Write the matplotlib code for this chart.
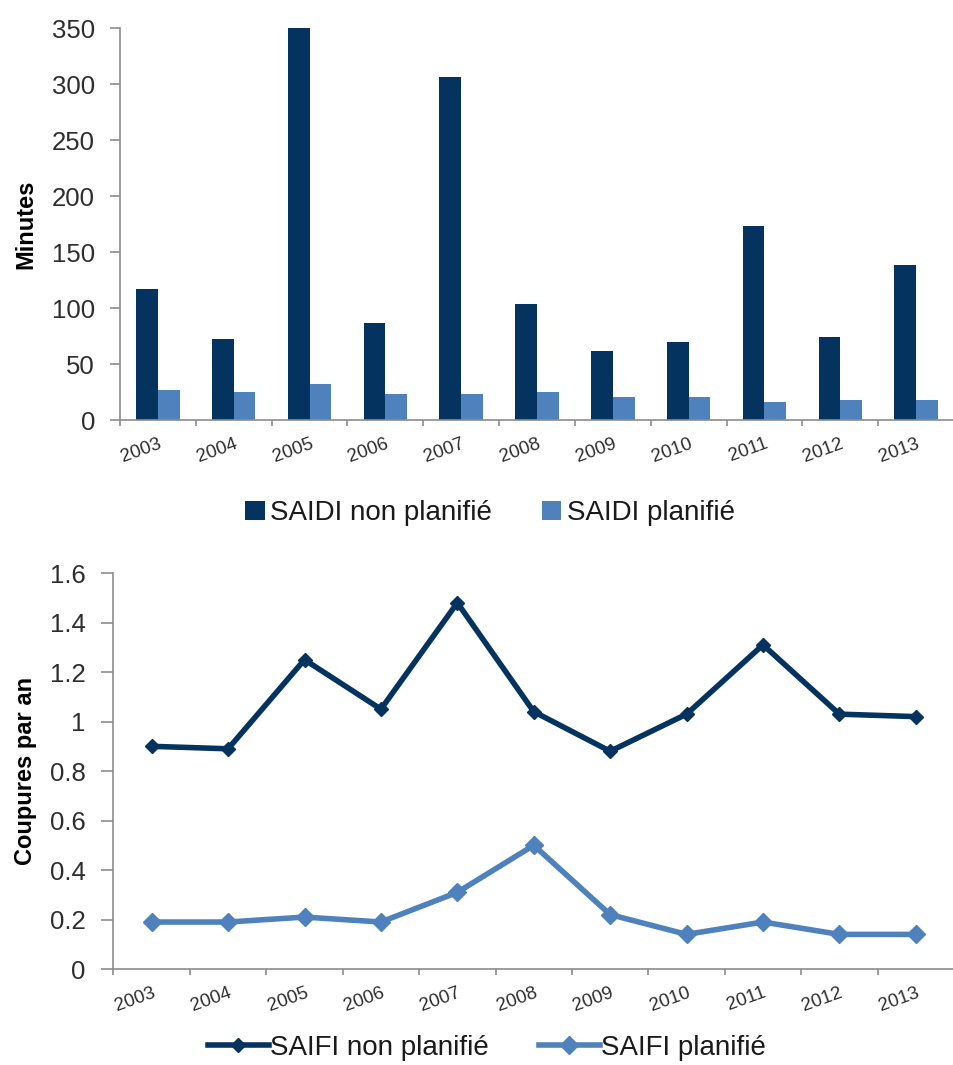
import numpy as np
import matplotlib
matplotlib.use('Agg')
import matplotlib.pyplot as plt
from matplotlib.ticker import FuncFormatter

plt.rcParams['font.family'] = ['Liberation Sans', 'DejaVu Sans']

# ── données ──────────────────────────────────────────
years = ['2003', '2004', '2005', '2006', '2007', '2008', '2009', '2010', '2011', '2012', '2013']
saidi_non_planifie = [117, 72, 350, 87, 306, 104, 62, 70, 173, 74, 138]
saidi_planifie = [27, 25, 32, 23, 23, 25, 21, 21, 16, 18, 18]
saifi_non_planifie = [0.90, 0.89, 1.25, 1.05, 1.48, 1.04, 0.88, 1.03, 1.31, 1.03, 1.02]
saifi_planifie = [0.19, 0.19, 0.21, 0.19, 0.31, 0.50, 0.22, 0.14, 0.19, 0.14, 0.14]

dark = '#04335f'
light = '#4f81bd'
axis_col = '#8c8c8c'
text_col = '#2e2e2e'

fig = plt.figure(figsize=(9.54, 10.65), dpi=100)
x = np.arange(len(years))


def style_axis(ax, xmax):
    for s in ['top', 'right']:
        ax.spines[s].set_visible(False)
    for s in ['left', 'bottom']:
        ax.spines[s].set_color(axis_col)
        ax.spines[s].set_linewidth(1.2)
    ax.set_xlim(-0.5, xmax)
    ax.set_xticks(x)
    ax.set_xticklabels(years, rotation=20, ha='right', rotation_mode='anchor',
                       fontsize=13.5, color=text_col)
    ax.set_xticks(np.arange(-0.5, len(years)), minor=True)
    ax.tick_params(axis='x', which='major', length=0, pad=11)
    ax.tick_params(axis='x', which='minor', length=4, width=1.2, color=axis_col)
    ax.tick_params(axis='y', length=7, width=1.2, color=axis_col,
                   labelsize=18.5, labelcolor=text_col, pad=11)


# ── 1. SAIDI ──────────────────────────────────────────
ax1 = fig.add_axes([120 / 954, 0.6056, (954 - 120) / 954, 0.3681])
w = 0.286
ax1.bar(x - w / 2, saidi_non_planifie, width=w, color=dark, label='SAIDI non planifié')
ax1.bar(x + w / 2, saidi_planifie, width=w, color=light, label='SAIDI planifié')
ax1.set_ylim(0, 350)
ax1.set_yticks(np.arange(0, 351, 50))
style_axis(ax1, 10.344)
ax1.set_ylabel('Minutes', fontsize=17, fontweight='bold', color='black')
ax1.yaxis.set_label_coords(-83 / 834, 0.5)
ax1.legend(loc='center', bbox_to_anchor=(490 / 954, 0.518), bbox_transform=fig.transFigure,
           ncol=2, frameon=False, fontsize=20, handlelength=0.7, handleheight=0.7,
           handletextpad=0.2, columnspacing=1.8, labelcolor='#1a1a1a')

# ── 2. SAIFI ──────────────────────────────────────────
ax2 = fig.add_axes([113.5 / 954, 0.0901, (954 - 113.5) / 954, 0.3718])
ax2.plot(x, saifi_non_planifie, color=dark, lw=4, marker='D', ms=7.5, label='SAIFI non planifié')
ax2.plot(x, saifi_planifie, color=light, lw=4, marker='D', ms=9, label='SAIFI planifié')
ax2.set_ylim(0, 1.6)
ax2.set_yticks(np.arange(0, 1.61, 0.2))
ax2.yaxis.set_major_formatter(FuncFormatter(lambda v, p: '%g' % round(v, 1)))
style_axis(ax2, 10.40)
ax2.tick_params(axis='y', length=9)
ax2.set_ylabel('Coupures par an', fontsize=17, fontweight='bold', color='black')
ax2.yaxis.set_label_coords(-76 / 840, 0.5)
ax2.legend(loc='center', bbox_to_anchor=(487 / 954, 0.016), bbox_transform=fig.transFigure,
           ncol=2, frameon=False, fontsize=20, handlelength=2.2,
           handletextpad=0.05, columnspacing=1.8, labelcolor='#1a1a1a')

fig.savefig('out.png', dpi=100)
